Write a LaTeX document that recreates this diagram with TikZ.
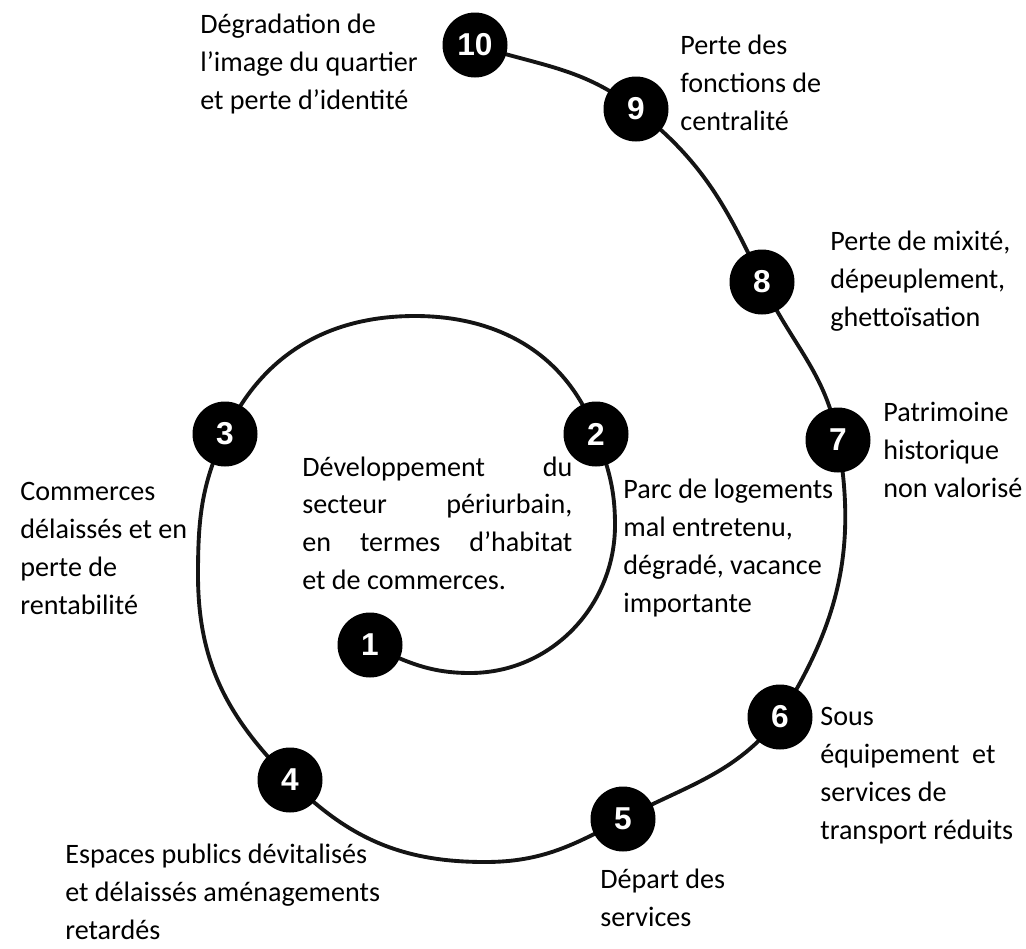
\documentclass[tikz,border=0pt]{standalone}
\usepackage{fontspec}
\setmainfont{Carlito}
\newfontfamily\numfont{Liberation Sans}
\usetikzlibrary{backgrounds}
\begin{document}
\begin{tikzpicture}[x=1cm,y=1cm,
  num/.style={circle, fill=black, minimum size=1.3cm, inner sep=0pt, text=white,
    font=\numfont\bfseries\fontsize{18}{20}\selectfont},
  lab/.style={anchor=base west, align=left, inner sep=0pt,
    font=\fontsize{16}{21.6}\selectfont},
  spiral/.style={line width=2.2pt, draw=black!92}
]
\useasboundingbox (0,0) rectangle (20.52,-18.96);

% numbered circles
\node[num] (n1) at (7.40,-12.90) {1};
\node[num] (n2) at (11.92,-8.68) {2};
\node[num] (n3) at (4.50,-8.68) {3};
\node[num] (n4) at (5.80,-15.60) {4};
\node[num] (n5) at (12.46,-16.38) {5};
\node[num] (n6) at (15.60,-14.34) {6};
\node[num] (n7) at (16.76,-8.80) {7};
\node[num] (n8) at (15.24,-5.64) {8};
\node[num] (n9) at (12.72,-2.18) {9};
\node[num] (n10) at (9.50,-0.90) {10};

% spiral way-points
\coordinate (q1) at (9.40,-13.46);
\coordinate (q2) at (12.30,-10.50);
\coordinate (q3) at (8.30,-6.32);
\coordinate (q4) at (3.96,-11.50);
\coordinate (q5) at (9.70,-17.24);

\begin{scope}[on background layer]
\draw[spiral] (n1.center) to[out=-25,in=180] (q1)
  to[out=0,in=270] (q2)
  to[out=90,in=-70] (n2.center)
  to[out=110,in=0] (q3)
  to[out=180,in=65] (n3.center)
  to[out=245,in=90] (q4)
  to[out=270,in=135] (n4.center)
  to[out=-45,in=180] (q5)
  to[out=0,in=208] (n5.center)
  to[out=28,in=232] (n6.center)
  to[out=58,in=280] (n7.center)
  to[out=100,in=-65] (n8.center)
  to[out=115,in=-38] (n9.center)
  to[out=142,in=-18] (n10.center);
\end{scope}

% labels (anchor = baseline of the last line)
\node[lab] (t10) at (4.00,-2.18) {Dégradation de\\l’image du quartier\\et perte d’identité};
\node[lab] (t9) at (13.60,-2.60) {Perte des\\fonctions de\\centralité};
\node[lab] (t8) at (16.60,-6.52) {Perte de mixité,\\dépeuplement,\\ghettoïsation};
\node[lab] (t7) at (17.66,-9.94) {Patrimoine\\historique\\non valorisé};
\node[lab] (t2) at (12.46,-12.24) {Parc de logements\\mal entretenu,\\dégradé, vacance\\importante};
\node[lab] (t6) at (16.40,-16.78) {Sous\\équipement\ \ et\\services de\\transport réduits};
\node[lab] (t5) at (12.00,-18.52) {Départ des\\services};
\node[lab] (t4) at (1.30,-18.78) {Espaces publics dévitalisés\\et délaissés aménagements\\retardés};
\node[lab] (t3) at (0.40,-12.28) {Commerces\\délaissés et en\\perte de\\rentabilité};
\node[lab, align=justify, text width=5.4cm] (t1) at (6.04,-9.52)
  {Développement du\linebreak secteur périurbain,\linebreak en termes d’habitat\linebreak et de commerces.};
\end{tikzpicture}
\end{document}
